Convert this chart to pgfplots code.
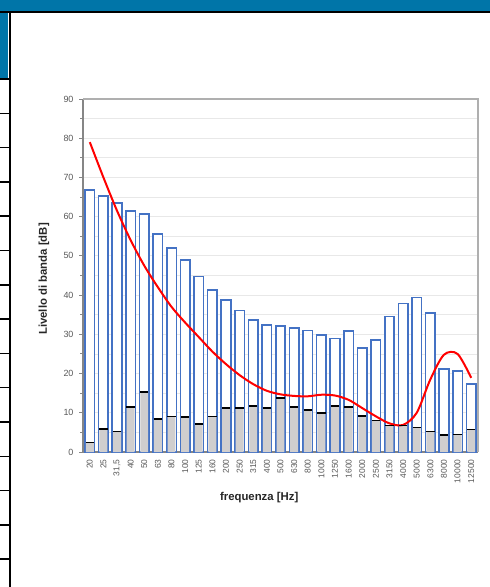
\documentclass[border=0pt]{standalone}
\usepackage{pgfplots}
\pgfplotsset{compat=1.18}
\usepackage{pgfplotstable}
\usepackage{fontspec}
\setmainfont{Liberation Sans}
\setsansfont{Liberation Sans}
\definecolor{hdrblue}{RGB}{0,117,168}
\definecolor{barblue}{RGB}{68,114,196}
\definecolor{bargray}{RGB}{208,206,206}
\definecolor{tickgray}{RGB}{89,89,89}
\definecolor{axgray}{RGB}{134,134,134}
\definecolor{framegray}{RGB}{175,175,175}
\definecolor{gridgray}{RGB}{232,232,232}

\pgfplotstableread{
i blue gray curve
0  66.8 2.4  79.0
1  65.3 5.8  70.0
2  63.5 5.2  61.5
3  61.4 11.5 54.0
4  60.7 15.3 47.5
5  55.6 8.4  42.0
6  52.0 9.1  37.0
7  48.9 8.9  33.0
8  44.7 7.2  29.3
9  41.3 9.1  25.6
10 38.7 11.2 22.4
11 36.1 11.2 19.6
12 33.7 11.7 17.3
13 32.4 11.2 15.6
14 32.2 13.7 14.7
15 31.6 11.4 14.3
16 31.0 10.7 14.2
17 29.9 9.9  14.6
18 28.9 11.7 14.4
19 30.9 11.5 13.3
20 26.5 9.2  11.2
21 28.6 8.0  9.1
22 34.5 6.8  7.3
23 37.9 6.8  6.9
24 39.4 6.2  10.0
25 35.4 5.2  18.5
26 21.2 4.3  24.8
27 20.6 4.5  25.0
28 17.3 5.7  18.9
}\data

\begin{document}
\begin{tikzpicture}[x=1bp,y=1bp]
\path[use as bounding box] (0,0) rectangle (490,-587);
\fill[white] (0,0) rectangle (490,-587);
\fill[hdrblue] (0,0) rectangle (490,-11);
\fill[black] (0,-11) rectangle (490,-13);
\fill[hdrblue] (0,-13) rectangle (8,-78);
\fill[black] (9,-13) rectangle (11,-587);
\foreach \k in {0,...,14} {
  \draw[line width=1.5bp] (0,{-79-34.3*\k}) -- (10,{-79-34.3*\k});
}
\begin{axis}[
  at={(83bp,-452bp)}, anchor=south west,
  scale only axis, width=395bp, height=353bp,
  xmin=-0.5, xmax=28.5, ymin=0, ymax=90,
  axis lines=left, axis line style={-, draw=axgray, line width=1.4bp},
  ytick={0,10,...,90}, minor y tick num=1,
  ymajorgrids, yminorgrids,
  major grid style={draw=gridgray, line width=0.8bp},
  minor grid style={draw=gridgray, line width=0.8bp},
  xtick={0,...,28},
  xticklabels={20,25,{31,5},40,50,63,80,100,125,160,200,250,315,400,500,630,800,1000,1250,1600,2000,2500,3150,4000,5000,6300,8000,10000,12500},
  xtick style={draw=none},
  ytick style={draw=axgray, line width=1bp},
  major tick length=4bp, minor tick length=3bp,
  tick align=outside,
  /pgf/number format/assume math mode=true,
  x tick label style={rotate=90, anchor=east, font=\fontsize{8.5}{9}\selectfont, text=tickgray, yshift=0bp},
  y tick label style={font=\fontsize{9}{10}\selectfont, text=tickgray, xshift=-2bp},
  xlabel={frequenza [Hz]},
  ylabel={Livello di banda [dB]},
  xlabel style={at={(axis description cs:0.446,0)}, anchor=center, yshift=-45.7bp, font=\bfseries\fontsize{11.4}{13}\selectfont, text=black!85},
  ylabel style={at={(axis description cs:-0.0987,0.49)}, anchor=center, font=\bfseries\fontsize{11.4}{13}\selectfont, text=black!85},
  clip=false,
]
\addplot[ybar, bar width=0.70, bar shift=0pt, draw=barblue, fill=white, line width=1.6bp] table[x=i, y=blue] {\data};
\addplot[ybar, bar width=0.58, bar shift=0pt, draw=none, fill=bargray] table[x=i, y=gray] {\data};
\addplot[only marks, mark=-, mark size=4.2bp, mark options={line width=1.6bp, draw=black}] table[x=i, y=gray] {\data};
\addplot[red, line width=2bp, smooth] table[x=i, y=curve] {\data};
\draw[framegray, line width=2bp] (rel axis cs:0,1) -- (rel axis cs:1,1) -- (rel axis cs:1,0);
\end{axis}
\end{tikzpicture}
\end{document}
